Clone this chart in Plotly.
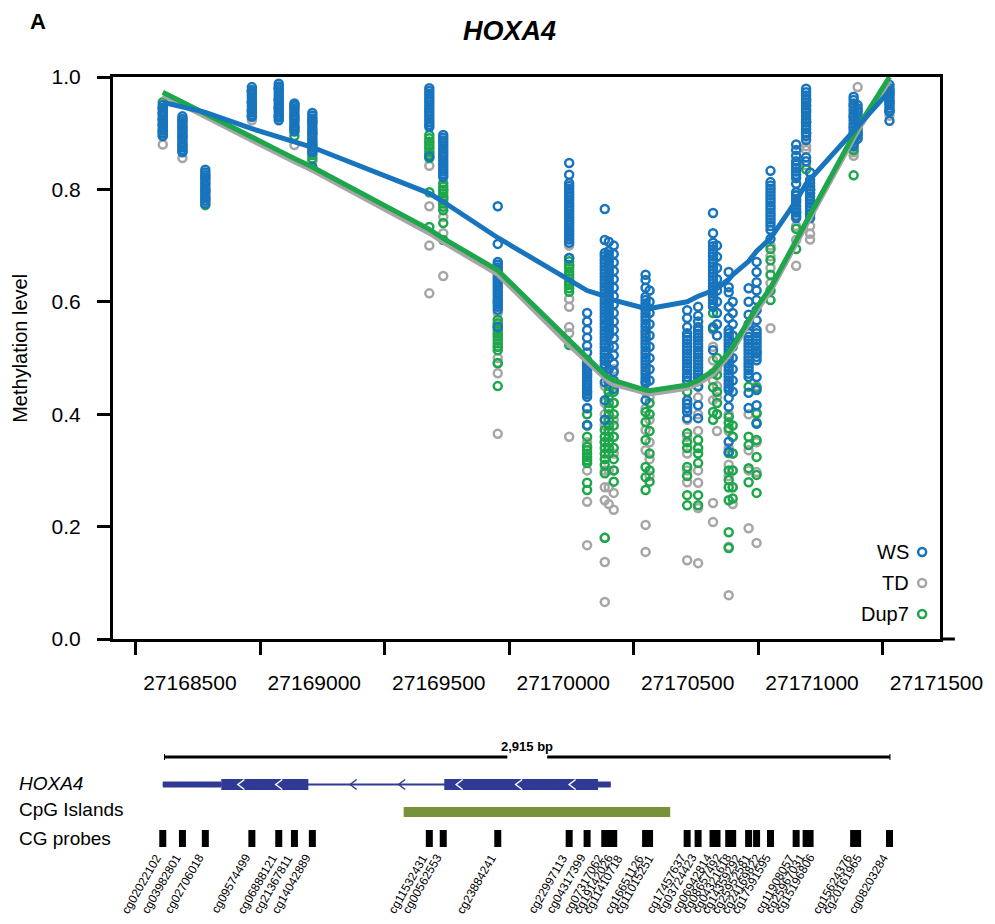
import plotly.graph_objects as go

# ---------------- data ----------------
probe_ids = ["cg02022102", "cg03982801", "cg02706018", "cg09574499", "cg06888121", "cg21367811",
             "cg14042889", "cg11532431", "cg00562553", "cg23884241", "cg22997113", "cg04317399",
             "cg07317062", "cg19142026", "cg11410718", "cg16651126", "cg11015251", "cg17457637",
             "cg03724423", "cg06942814", "cg08657492", "cg04321618", "cg14359292", "cg25952581",
             "cg24169822", "cg17591595", "cg11908057", "cg25967031", "cg15196806", "cg15624376",
             "cg20161965", "cg08203284"]
probe_pos = [27168608, 27168687, 27168779, 27168966, 27169074, 27169137,
             27169209, 27169679, 27169735, 27169954, 27170241, 27170313,
             27170384, 27170400, 27170420, 27170548, 27170564, 27170715,
             27170759, 27170819, 27170835, 27170882, 27170898, 27170962,
             27170994, 27171050, 27171153, 27171193, 27171209, 27171384,
             27171400, 27171528]

ws_vals = [
    [.95, .945, .94, .935, .93, .925, .92, .915, .91, .905, .90, .895],
    [.93, .925, .92, .915, .91, .905, .90, .895, .89, .885, .88, .875, .87, .866],
    [.835, .83, .825, .82, .815, .81, .805, .80, .795, .79, .785, .78, .775],
    [.982, .977, .972, .967, .962, .957, .952, .947, .942, .937, .932, .929],
    [.988, .983, .978, .973, .968, .963, .958, .953, .948, .943, .938, .933, .928, .923],
    [.953, .948, .943, .938, .933, .928, .923, .918, .913, .908, .903],
    [.936, .931, .926, .921, .916, .911, .906, .901, .896, .891, .886, .881, .876, .871, .866, .84],
    [.98, .975, .97, .965, .96, .955, .95, .945, .94, .935, .93, .925, .92, .915, .911, .858],
    [.897, .892, .887, .882, .877, .872, .867, .862, .857, .852, .847, .842, .837, .832, .827, .822],
    [.77, .703, .671, .666, .661, .656, .651, .646, .641, .636, .631, .626, .621, .616, .611, .606,
     .601, .596, .591, .586, .555],
    [.847, .826, .811, .806, .801, .796, .791, .786, .781, .776, .771, .766, .761, .756, .751, .746,
     .741, .736, .731, .726, .721, .716, .711, .705, .678],
    [.58, .565, .55, .536, .522, .51, .496, .491, .486, .481, .476, .471, .466, .461, .456, .451,
     .446, .441, .436, .431, .411, .381],
    [.765, .71, .687, .681, .675, .669, .663, .657, .651, .645, .639, .633, .627, .621, .615, .609,
     .603, .597, .591, .585, .579, .573, .567, .561, .555, .549, .543, .537, .531, .525, .519, .513,
     .507, .501, .495, .489, .484, .457, .425, .39],
    [.707, .69, .684, .678, .672, .666, .66, .654, .648, .642, .636, .63, .624, .618, .612, .606,
     .6, .594, .588, .582, .576, .57, .564, .558, .552, .546, .54, .52, .5, .48, .46],
    [.70, .685, .67, .655, .64, .625, .61, .595, .58, .565, .55, .535, .52, .505, .49, .475, .46, .445],
    [.648, .639, .625, .609, .603, .597, .591, .585, .579, .573, .567, .561, .555, .549, .543, .537,
     .531, .525, .519, .513, .507, .501, .495, .489, .483, .477, .471, .465, .459, .455, .425],
    [.62, .60, .58, .56, .54, .52, .50, .48, .46],
    [.585, .571, .555, .544, .538, .532, .526, .52, .514, .508, .502, .496, .49, .484, .478, .472,
     .466, .46, .425, .418, .411, .404, .393],
    [.591, .575, .565, .555, .549, .543, .537, .531, .525, .519, .513, .507, .501, .495, .489, .483,
     .477, .471, .465, .459, .449, .416, .393],
    [.758, .722, .705, .699, .693, .687, .681, .675, .669, .663, .657, .651, .645, .639, .633, .627,
     .621, .615, .609, .603, .597, .591, .553, .514],
    [.70, .68, .66, .64, .62, .60, .58, .56, .54],
    [.653, .626, .617, .591, .571, .55, .544, .538, .532, .526, .52, .514, .508, .502, .496, .49,
     .484, .478, .472, .466, .46, .454, .448, .443, .429, .413, .351, .333],
    [.60, .58, .56, .54, .52, .50, .48, .46, .44],
    [.624, .60, .577, .56, .544, .538, .532, .526, .52, .514, .508, .502, .496, .49, .484, .478,
     .472, .466, .438, .411],
    [.671, .653, .635, .62, .603, .585, .567, .55, .544, .538, .532, .526, .52, .514, .508, .502,
     .496, .466, .443, .416, .383],
    [.833, .813, .807, .801, .795, .789, .783, .777, .771, .765, .759, .753, .747, .741, .735, .728, .712],
    [.88, .87, .86, .85, .844, .838, .832, .826, .82, .81, .795, .789, .783, .777, .771, .765, .759,
     .753, .749],
    [.979, .973, .967, .961, .955, .949, .943, .937, .931, .925, .919, .913, .907, .901, .895, .888,
     .857, .85],
    [.83, .817, .811, .805, .799, .793, .787, .781, .775, .769, .763, .757, .749],
    [.965, .959, .953, .947, .941, .935, .929, .923, .917, .911, .905, .899, .893, .887, .881, .877],
    [.95, .944, .938, .932, .926, .92, .914, .908, .902, .896, .89],
    [.986, .98, .975, .97, .965, .96, .955, .95, .945, .94, .938, .922],
]

td_vals = [
    [.945, .935, .925, .915, .905, .895, .88],
    [.92, .905, .89, .875, .856],
    [.825, .81, .795, .78],
    [.975, .955, .94, .923],
    [.98, .96, .945, .93],
    [.945, .925, .905, .879],
    [.925, .905, .885, .865, .85],
    [.885, .875, .865, .842, .77, .70, .615],
    [.80, .785, .751, .722, .646],
    [.60, .58, .56, .54, .52, .50, .49, .473, .365],
    [.70, .665, .635, .605, .591, .555, .544, .36],
    [.47, .44, .41, .38, .35, .30, .244, .167],
    [.45, .42, .40, .38, .35, .30, .27, .247, .18, .137, .066],
    [.50, .47, .44, .41, .38, .34, .30, .27, .24],
    [.48, .45, .42, .39, .36, .33, .30, .26, .23],
    [.44, .41, .372, .336, .203, .155],
    [.43, .39, .35, .32, .29],
    [.42, .39, .36, .33, .30, .279, .14],
    [.43, .40, .37, .34, .30, .278, .233, .135],
    [.55, .52, .496, .46, .425, .242, .208],
    [.48, .45, .43, .40, .37],
    [.40, .37, .34, .31, .29, .164, .078],
    [.36, .33, .30, .27, .24],
    [.40, .336, .30, .197],
    [.45, .40, .35, .297, .171],
    [.70, .681, .66, .633, .553],
    [.78, .735, .71, .664],
    [.95, .92, .90, .877, .87, .843],
    [.80, .735, .721, .711],
    [.95, .91, .866, .86],
    [.982, .94, .90],
    [.975, .95, .931],
]

dup7_vals = [
    [.955, .945, .935, .925, .915, .905, .90],
    [.925, .91, .895, .88, .868],
    [.82, .80, .785, .772],
    [.975, .955, .94, .93],
    [.98, .96, .945, .93],
    [.95, .93, .91, .895],
    [.92, .90, .88, .861, .855],
    [.897, .891, .885, .879, .873, .867, .861, .856, .795, .733],
    [.811, .805, .799, .793, .787, .781, .775, .769, .763, .74, .71],
    [.568, .562, .556, .55, .544, .538, .532, .526, .52, .514, .491, .45],
    [.678, .672, .666, .66, .654, .648, .642, .636, .63, .624, .618, .523],
    [.40, .38, .36, .342, .336, .33, .324, .318, .313, .278, .265],
    [.372, .36, .35, .34, .33, .32, .31, .295, .18],
    [.46, .45, .44, .43, .42, .41, .40, .39, .38, .37, .36, .35, .34, .33],
    [.44, .42, .40, .38, .36, .34, .32, .30, .28],
    [.404, .386, .354, .306, .288, .265],
    [.42, .40, .37, .33, .30, .28],
    [.44, .366, .35, .34, .306, .29, .256, .238],
    [.45, .354, .34, .33, .313, .256, .238],
    [.58, .555, .473, .448, .404, .39],
    [.50, .47, .44, .42, .40],
    [.395, .385, .375, .331, .30, .283, .27, .247, .19, .162],
    [.38, .36, .33, .30, .27, .25],
    [.449, .36, .345, .304, .279],
    [.51, .447, .402, .385, .354, .324, .292, .26],
    [.694, .674, .648, .62, .603],
    [.79, .76, .73, .694],
    [.96, .94, .92, .90, .836],
    [.80, .78, .755],
    [.93, .894, .87, .825],
    [.92, .90],
    [.97, .955, .94],
]

# smoothed group means evaluated at each probe
ws_fit = [.955, .947, .937, .908, .893, .885, .875, .793, .778, .714, .637, .620, .610, .607, .603, .588,
          .588, .600, .610, .620, .624, .640, .648, .672, .690, .713, .780, .810, .818, .904, .912, .975]
td_fit = [.968, .950, .929, .887, .863, .849, .834, .722, .706, .649, .523, .493, .463, .458, .453, .436,
          .436, .446, .454, .471, .479, .504, .514, .559, .584, .619, .701, .734, .749, .891, .904, .994]
dup7_fit = [.973, .955, .935, .893, .869, .855, .840, .729, .713, .656, .530, .500, .470, .465, .460, .443,
            .442, .452, .460, .477, .485, .510, .520, .565, .590, .625, .707, .740, .755, .897, .910, 1.0]

x_ticks = [27168500, 27169000, 27169500, 27170000, 27170500, 27171000, 27171500]
y_ticks = [0.0, 0.2, 0.4, 0.6, 0.8, 1.0]
x_range = [27168408, 27171731]

# gene track (genomic coordinates)
region_start = 27168615
region_len = 2915
gene_utrs = [(27168608, 27168843), (27170357, 27170408)]
gene_exons = [(27168843, 27169193), (27169739, 27170357)]
gene_span = (27168608, 27170408)
cpg_island = (27169576, 27170647)
strand_marks_exon = [27168922, 27169074, 27169799, 27170038, 27170253]
strand_marks_intron = [27169373, 27169568]

groups = ["WS", "TD", "Dup7"]
colors = {"WS": "#1874BD", "TD": "#A6A6A6", "Dup7": "#1DA64A"}
FONT = "Arial, 'Liberation Sans', Helvetica, sans-serif"

# ---------------- figure geometry ----------------
W, H = 995, 924
L, R, T, B = 113, 48, 77, 285
PW, PH = W - L - R, H - T - B


def px_x(p):
    return (p - L) / PW


def px_y(p):
    return (T + PH - p) / PH


def data_to_px(g):
    return L + (g - x_range[0]) / (x_range[1] - x_range[0]) * PW


def px_to_data(p):
    return x_range[0] + (p - L) / PW * (x_range[1] - x_range[0])


def flatten(vals):
    xs, ys = [], []
    for pos, v in zip(probe_pos, vals):
        xs += [pos] * len(v)
        ys += v
    return xs, ys


fig = go.Figure()

# points: TD underneath, then Dup7, WS on top
for name, vals in [("TD", td_vals), ("Dup7", dup7_vals), ("WS", ws_vals)]:
    xs, ys = flatten(vals)
    fig.add_trace(go.Scatter(
        x=xs, y=ys, mode="markers", name=name, showlegend=False, cliponaxis=False,
        marker=dict(symbol="circle-open", size=8, color=colors[name], line=dict(width=2.5)),
    ))

for name, fit in [("TD", td_fit), ("Dup7", dup7_fit), ("WS", ws_fit)]:
    fig.add_trace(go.Scatter(
        x=probe_pos, y=fit, mode="lines", showlegend=False, cliponaxis=False,
        line=dict(color=colors[name], width=5),
    ))

shapes = []
annotations = []

# x axis line runs a little past the frame
shapes.append(dict(type="line", xref="paper", yref="paper", x0=1, x1=px_x(962), y0=0, y1=0,
                   line=dict(color="black", width=3)))

# legend (text left of marker)
for i, name in enumerate(groups):
    yy = px_y(552 + i * 31)
    shapes.append(dict(type="circle", xref="paper", yref="paper", xsizemode="pixel", ysizemode="pixel",
                       xanchor=px_x(929), yanchor=yy, x0=-4, x1=4, y0=-4, y1=4,
                       line=dict(color=colors[name], width=2.5)))
    annotations.append(dict(text=name, xref="paper", yref="paper", x=px_x(918), y=yy,
                            xanchor="right", yanchor="middle", showarrow=False,
                            font=dict(size=20, color="black", family=FONT)))

# ---- gene track ----
region_end = region_start + region_len
mid = (region_start + region_end) / 2
gap = 80
y_bar = px_y(757)
for a, b in [(region_start, mid - gap), (mid + gap, region_end)]:
    shapes.append(dict(type="line", xref="x", yref="paper", x0=a, x1=b, y0=y_bar, y1=y_bar,
                       line=dict(color="black", width=3)))
for e in [region_start, region_end]:
    shapes.append(dict(type="line", xref="x", yref="paper", x0=e, x1=e,
                       y0=px_y(754), y1=px_y(760), line=dict(color="black", width=1)))
annotations.append(dict(text="<b>2,915 bp</b>", xref="x", yref="paper", x=mid, y=px_y(746),
                        xanchor="center", yanchor="middle", showarrow=False,
                        font=dict(size=13, color="black", family=FONT)))

GENE = "#2E3A93"
y_gene = px_y(784.5)
shapes.append(dict(type="line", xref="x", yref="paper", x0=gene_span[0], x1=gene_span[1],
                   y0=y_gene, y1=y_gene, line=dict(color=GENE, width=2)))
for a, b in gene_utrs:
    shapes.append(dict(type="rect", xref="x", yref="paper", x0=a, x1=b,
                       y0=y_gene - 3 / PH, y1=y_gene + 3 / PH, fillcolor=GENE, line=dict(width=0)))
for a, b in gene_exons:
    shapes.append(dict(type="rect", xref="x", yref="paper", x0=a, x1=b,
                       y0=y_gene - 5.5 / PH, y1=y_gene + 5.5 / PH, fillcolor=GENE, line=dict(width=0)))
for marks, col in [(strand_marks_exon, "white"), (strand_marks_intron, GENE)]:
    for m in marks:
        shapes.append(dict(type="path", xref="x", yref="paper", xsizemode="pixel", ysizemode="pixel",
                           xanchor=m, yanchor=y_gene, path="M 3.5 5 L -3 0 L 3.5 -5",
                           line=dict(color=col, width=1.5)))

shapes.append(dict(type="rect", xref="x", yref="paper", x0=cpg_island[0], x1=cpg_island[1],
                   y0=px_y(817), y1=px_y(807), fillcolor="#77923A", line=dict(width=0)))

for p in probe_pos:
    shapes.append(dict(type="rect", xref="x", yref="paper", xsizemode="pixel", xanchor=p,
                       x0=-3.5, x1=3.5, y0=px_y(847), y1=px_y(830), fillcolor="black", line=dict(width=0)))

# probe names, nudged apart where probes crowd together
label_px = []
for p in probe_pos:
    x = data_to_px(p) + 4
    if label_px and x < label_px[-1] + 10:
        x = label_px[-1] + 10
    label_px.append(x)
for name, lp in zip(probe_ids, label_px):
    annotations.append(dict(text=name, xref="x", yref="paper", x=px_to_data(lp), y=px_y(849),
                            xanchor="right", yanchor="top", textangle=-60, showarrow=False,
                            font=dict(size=12, color="black", family=FONT)))

for text, yp in [("<i>HOXA4</i>", 784), ("CpG Islands", 809), ("CG probes", 838)]:
    annotations.append(dict(text=text, xref="paper", yref="paper", x=px_x(16), y=px_y(yp),
                            xanchor="left", yanchor="middle", showarrow=False,
                            font=dict(size=19, color="black", family=FONT)))

# panel letter, title, y-axis title
annotations.append(dict(text="<b>A</b>", xref="paper", yref="paper", x=px_x(27), y=px_y(21),
                        xanchor="left", yanchor="middle", showarrow=False,
                        font=dict(size=22, color="black", family=FONT)))
annotations.append(dict(text="<b><i>HOXA4</i></b>", xref="paper", yref="paper", x=px_x(513), y=px_y(31),
                        xanchor="center", yanchor="middle", showarrow=False,
                        font=dict(size=27, color="black", family=FONT)))
annotations.append(dict(text="Methylation level", xref="paper", yref="paper", x=px_x(19), y=px_y(348),
                        xanchor="center", yanchor="middle", textangle=-90, showarrow=False,
                        font=dict(size=20, color="black", family=FONT)))

axis_common = dict(showgrid=False, zeroline=False, showline=True, linecolor="black", linewidth=3,
                   mirror=True, ticks="outside", ticklen=13, tickwidth=3, tickcolor="black",
                   tickfont=dict(size=21, color="black", family=FONT))

fig.update_layout(
    width=W, height=H, margin=dict(l=L, r=R, t=T, b=B),
    plot_bgcolor="white", paper_bgcolor="white",
    xaxis=dict(range=x_range, tickvals=x_ticks, ticktext=[str(t) for t in x_ticks],
               ticklabelshift=54, ticklabelstandoff=10, **axis_common),
    yaxis=dict(range=[0, 1], tickvals=y_ticks, ticktext=[f"{t:.1f}" for t in y_ticks],
               ticklabelstandoff=12, **axis_common),
    shapes=shapes, annotations=annotations, showlegend=False,
)

fig.write_html("out.html")
